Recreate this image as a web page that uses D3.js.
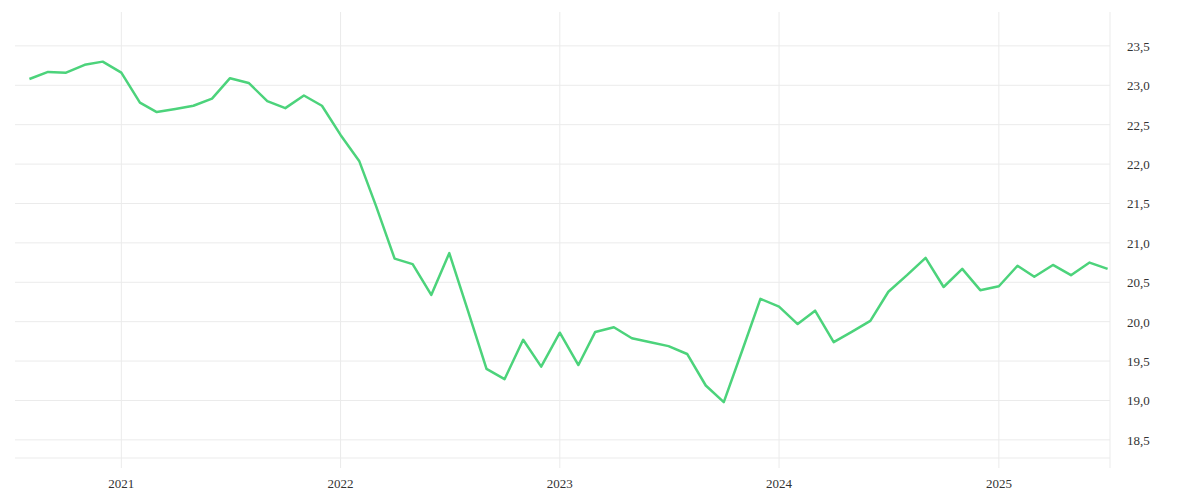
<!DOCTYPE html><html><head><meta charset="utf-8"><script src="https://cdn.jsdelivr.net/npm/d3@7"></script>
<style>body{margin:0;background:#fff}text{font-family:"Liberation Serif",serif;font-size:13px;fill:#333}</style></head><body><svg id="c" width="1200" height="500"></svg><script>
const startMonth = "2020-08";
const values = [23.08,23.17,23.16,23.26,23.30,23.16,22.78,22.66,22.70,22.74,22.83,23.09,23.03,22.80,22.71,22.87,22.74,22.37,22.04,21.47,20.80,20.73,20.34,20.87,20.14,19.40,19.27,19.77,19.43,19.86,19.45,19.87,19.93,19.79,19.74,19.69,19.59,19.19,18.98,19.64,20.29,20.19,19.97,20.14,19.74,19.87,20.01,20.38,20.59,20.81,20.44,20.67,20.40,20.45,20.71,20.57,20.72,20.59,20.75,20.67];
const yTicks = [18.5,19,19.5,20,20.5,21,21.5,22,22.5,23,23.5];
const xTicks = ["2021","2022","2023","2024","2025"];
const t0 = new Date(2020,7,1);
const data = values.map((v,i)=>({d:new Date(2020,7+i,1),v}));
const svg = d3.select("#c");
const L=15,R=1110,T=12,B=458;
const x = d3.scaleTime().domain([new Date(2020,6,8), new Date(2025,6,5)]).range([L,R]);
const y = d3.scaleLinear().domain([18.27,23.93]).range([B,T]);
const g = svg.append("g");
yTicks.concat([18.27]).forEach(t=>g.append("line").attr("x1",L).attr("x2",R).attr("y1",y(t)).attr("y2",y(t)).attr("stroke","#ebebeb"));
xTicks.forEach(t=>g.append("line").attr("x1",x(new Date(+t,0,1))).attr("x2",x(new Date(+t,0,1))).attr("y1",T).attr("y2",468).attr("stroke","#ebebeb"));
g.append("line").attr("x1",R).attr("x2",R).attr("y1",T).attr("y2",468).attr("stroke","#ebebeb");
yTicks.forEach(t=>svg.append("text").attr("x",1127).attr("y",y(t)+5).text(d3.format(".1f")(t).replace(".",",")));
xTicks.forEach(t=>svg.append("text").attr("x",x(new Date(+t,0,1))).attr("y",488).attr("text-anchor","middle").text(t));
svg.append("path").datum(data).attr("fill","none").attr("stroke","#4cd37b").attr("stroke-width",2.5).attr("stroke-linejoin","round")
 .attr("d",d3.line().x(d=>x(d.d)).y(d=>y(d.v)));
</script></body></html>
